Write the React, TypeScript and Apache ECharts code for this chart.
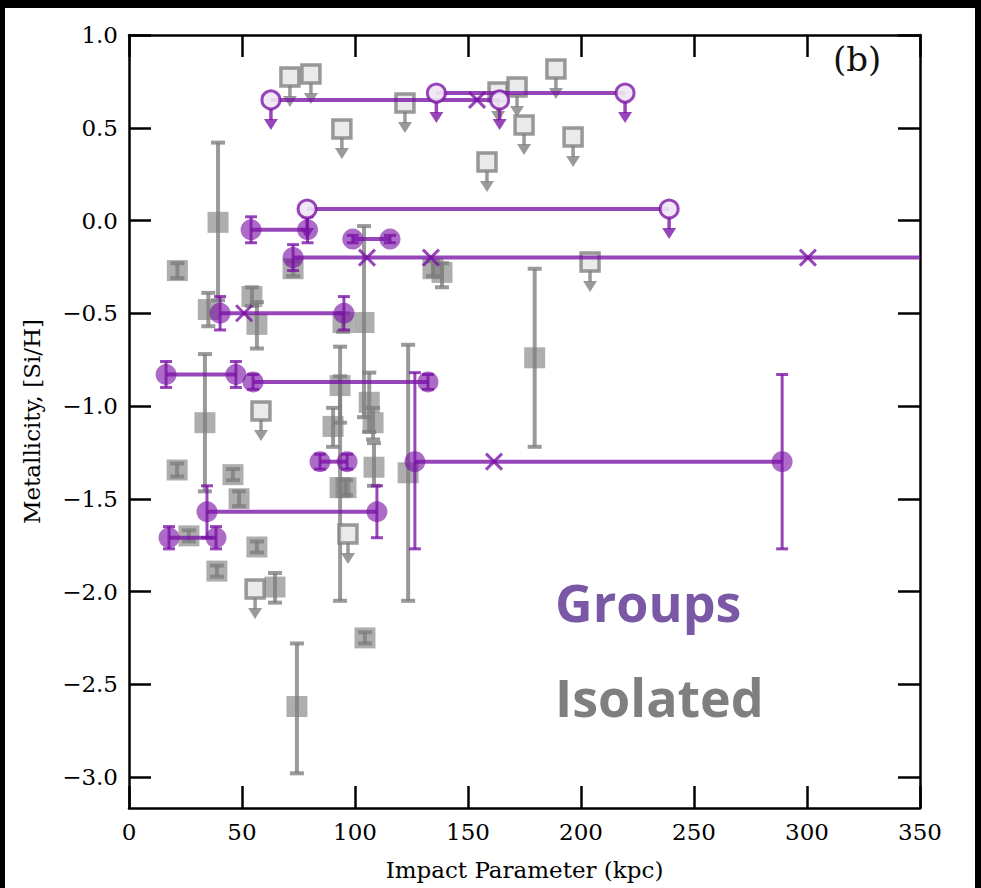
import React, { useEffect, useRef } from "react";
import * as echarts from "echarts";

// ---------- data ----------
const xTickStep = 50;
const yTicks = [-3.0, -2.5, -2.0, -1.5, -1.0, -0.5, 0.0, 0.5, 1.0];

// group horizontal spans: [xStart, xEnd, metallicity]
const groupSpans = [
  [62.8, 164, 0.65],
  [136, 219.5, 0.687],
  [78.8, 239, 0.062],
  [54, 79, -0.05],
  [99, 115.5, -0.1],
  [72.6, 370, -0.2],
  [40.3, 95.1, -0.5],
  [16.4, 47.3, -0.83],
  [54.9, 132.3, -0.87],
  [84.5, 96.5, -1.3],
  [126.5, 289, -1.3],
  [34.5, 109.7, -1.57],
  [17.7, 38.5, -1.71],
];

// group detections: [x, y, yLow, yHigh]
const groupDetections = [
  [54, -0.05, -0.12, 0.02],
  [79, -0.05, -0.12, 0.02],
  [99, -0.1, -0.12, -0.08],
  [115.5, -0.1, -0.12, -0.08],
  [72.6, -0.2, -0.27, -0.13],
  [40.3, -0.5, -0.59, -0.41],
  [95.1, -0.5, -0.59, -0.41],
  [16.4, -0.83, -0.9, -0.76],
  [47.3, -0.83, -0.9, -0.76],
  [54.9, -0.87, -0.91, -0.83],
  [132.3, -0.87, -0.91, -0.83],
  [84.5, -1.3, -1.34, -1.26],
  [96.5, -1.3, -1.34, -1.26],
  [126.5, -1.3, -1.77, -0.82],
  [289, -1.3, -1.77, -0.83],
  [34.5, -1.57, -1.71, -1.43],
  [109.7, -1.57, -1.71, -1.43],
  [17.7, -1.71, -1.77, -1.65],
  [38.5, -1.71, -1.77, -1.65],
];

// group upper limits: [x, y]
const groupUpperLimits = [
  [62.8, 0.65],
  [164, 0.65],
  [136, 0.687],
  [219.5, 0.687],
  [78.8, 0.062],
  [239, 0.062],
];

// group galaxies without measurement: [x, y]
const groupNonDetections = [
  [154, 0.65],
  [50.9, -0.5],
  [105.3, -0.2],
  [133.6, -0.2],
  [300.4, -0.2],
  [161.5, -1.3],
];

// isolated detections: [x, y, yLow, yHigh]
const isolatedDetections = [
  [39.4, -0.01, -0.43, 0.42],
  [21.4, -0.27, -0.31, -0.23],
  [72.6, -0.26, -0.3, -0.22],
  [134.5, -0.26, -0.3, -0.22],
  [138.5, -0.28, -0.36, -0.23],
  [35.1, -0.48, -0.57, -0.39],
  [54.4, -0.41, -0.46, -0.36],
  [56.6, -0.56, -0.69, -0.44],
  [94.7, -0.55, -0.6, -0.5],
  [104, -0.55, -1.06, -0.03],
  [93.4, -0.89, -1.09, -0.68],
  [93.4, -1.44, -2.05, -0.84],
  [96, -1.44, -1.48, -1.4],
  [90.3, -1.11, -1.22, -1.01],
  [106.3, -0.98, -1.14, -0.82],
  [108, -1.09, -1.18, -1.01],
  [108.4, -1.33, -1.43, -1.2],
  [123.5, -1.36, -2.05, -0.67],
  [33.6, -1.09, -1.46, -0.72],
  [21.3, -1.345, -1.38, -1.31],
  [46, -1.37, -1.4, -1.34],
  [48.7, -1.5, -1.54, -1.46],
  [26.5, -1.7, -1.73, -1.67],
  [56.6, -1.76, -1.79, -1.73],
  [38.9, -1.89, -1.92, -1.86],
  [64.6, -1.976, -2.06, -1.9],
  [104.4, -2.25, -2.28, -2.22],
  [74.3, -2.62, -2.98, -2.28],
  [179.5, -0.74, -1.22, -0.26],
];

// isolated upper limits: [x, y]
const isolatedUpperLimits = [
  [71.2, 0.774],
  [80.5, 0.79],
  [122.1, 0.633],
  [94.2, 0.493],
  [158.4, 0.315],
  [163.3, 0.693],
  [171.7, 0.72],
  [188.9, 0.817],
  [174.8, 0.515],
  [196.5, 0.45],
  [204, -0.224],
  [58.4, -1.027],
  [96.9, -1.69],
  [55.8, -1.987],
];

// ---------- styles ----------
const PURPLE = "rgba(122, 18, 165, 0.78)";
const GRAY = "rgba(125, 125, 125, 0.78)";
const SERIF = "DejaVu Serif";

function errorBarRenderer(color: string, lw: number, capHalf: number) {
  return (params: any, api: any) => {
    const x = api.value(0);
    const lo = api.value(2);
    const hi = api.value(3);
    const a = api.coord([x, hi]);
    const b = api.coord([x, lo]);
    const st = { stroke: color, lineWidth: lw };
    return {
      type: "group",
      children: [
        { type: "line", shape: { x1: a[0], y1: a[1], x2: b[0], y2: b[1] }, style: st },
        { type: "line", shape: { x1: a[0] - capHalf, y1: a[1], x2: a[0] + capHalf, y2: a[1] }, style: st },
        { type: "line", shape: { x1: b[0] - capHalf, y1: b[1], x2: b[0] + capHalf, y2: b[1] }, style: st },
      ],
    };
  };
}

function upperLimitRenderer(kind: "square" | "circle") {
  return (params: any, api: any) => {
    const p = api.coord([api.value(0), api.value(1)]);
    const color = kind === "square" ? GRAY : PURPLE;
    const children: any[] = [
      { type: "line", shape: { x1: p[0], y1: p[1] + 9, x2: p[0], y2: p[1] + 20 }, style: { stroke: color, lineWidth: 3.5 } },
      {
        type: "polygon",
        shape: { points: [[p[0] - 7, p[1] + 19], [p[0] + 7, p[1] + 19], [p[0], p[1] + 30]] },
        style: { fill: color },
      },
    ];
    if (kind === "square") {
      children.push({
        type: "rect",
        shape: { x: p[0] - 9, y: p[1] - 9, width: 18, height: 18 },
        style: { fill: "rgba(232,232,232,0.9)", stroke: color, lineWidth: 3.5 },
      });
    } else {
      children.push({
        type: "circle",
        shape: { cx: p[0], cy: p[1], r: 9 },
        style: { fill: "rgba(240,230,245,0.9)", stroke: color, lineWidth: 3 },
      });
    }
    return { type: "group", children };
  };
}

function spanRenderer(params: any, api: any) {
  const a = api.coord([api.value(0), api.value(2)]);
  const b = api.coord([api.value(1), api.value(2)]);
  return {
    type: "line",
    shape: { x1: a[0], y1: a[1], x2: b[0], y2: b[1] },
    style: { stroke: PURPLE, lineWidth: 4 },
  };
}

function crossRenderer(params: any, api: any) {
  const p = api.coord([api.value(0), api.value(1)]);
  const s = 8;
  const st = { stroke: PURPLE, lineWidth: 3 };
  return {
    type: "group",
    children: [
      { type: "line", shape: { x1: p[0] - s, y1: p[1] - s, x2: p[0] + s, y2: p[1] + s }, style: st },
      { type: "line", shape: { x1: p[0] - s, y1: p[1] + s, x2: p[0] + s, y2: p[1] - s }, style: st },
    ],
  };
}

export default function App() {
  const ref = useRef<HTMLDivElement>(null);

  useEffect(() => {
    if (!ref.current) return;
    const chart = echarts.init(ref.current, null, { renderer: "svg" });

    const fmtY = (v: number) => {
      const s = v.toFixed(1);
      return v < 0 ? "\u2212" + s.slice(1) : s;
    };

    const tickStyle = { show: true, inside: true, length: 22, lineStyle: { color: "#000", width: 2.5 } };
    const lineStyle = { show: true, onZero: false, lineStyle: { color: "#000", width: 2.5 } };

    chart.setOption({
      animation: false,
      backgroundColor: "#ffffff",
      grid: { left: 129, right: 61, top: 35, bottom: 80, outerBoundsMode: "none" },
      xAxis: [
        {
          type: "value",
          min: 0,
          max: 350,
          interval: xTickStep,
          position: "bottom",
          splitLine: { show: false },
          axisLine: lineStyle,
          axisTick: tickStyle,
          axisLabel: { fontFamily: SERIF, fontSize: 23, color: "#000", margin: 12 },
          name: "Impact Parameter (kpc)",
          nameLocation: "middle",
          nameGap: 50,
          nameTextStyle: { fontFamily: SERIF, fontSize: 23, color: "#000" },
        },
        {
          type: "value",
          min: 0,
          max: 350,
          interval: xTickStep,
          position: "top",
          splitLine: { show: false },
          axisLine: lineStyle,
          axisTick: tickStyle,
          axisLabel: { show: false },
        },
      ],
      yAxis: [
        {
          type: "value",
          min: -3.167,
          max: 1.0,
          position: "left",
          splitLine: { show: false },
          axisLine: lineStyle,
          axisTick: { ...tickStyle, customValues: yTicks },
          axisLabel: {
            customValues: yTicks,
            formatter: (v: number) => fmtY(v),
            fontFamily: SERIF,
            fontSize: 23,
            color: "#000",
            margin: 11,
          },
          name: "Metallicity, [Si/H]",
          nameLocation: "middle",
          nameRotate: 90,
          nameGap: 86,
          nameTextStyle: { fontFamily: SERIF, fontSize: 23, color: "#000" },
        },
        {
          type: "value",
          min: -3.167,
          max: 1.0,
          position: "right",
          splitLine: { show: false },
          axisLine: lineStyle,
          axisTick: { ...tickStyle, customValues: yTicks },
          axisLabel: { show: false },
        },
      ],
      graphic: [
        { type: "rect", shape: { x: 0, y: 0, width: 981, height: 8 }, style: { fill: "#000" }, z: 100 },
        { type: "rect", shape: { x: 0, y: 0, width: 5, height: 888 }, style: { fill: "#000" }, z: 100 },
        { type: "rect", shape: { x: 975, y: 0, width: 6, height: 888 }, style: { fill: "#000" }, z: 100 },
        {
          type: "text",
          left: 833,
          top: 42,
          style: { text: "(b)", font: `34px "${SERIF}"`, fill: "#111" },
          z: 100,
        },
        {
          type: "text",
          left: 555,
          top: 575,
          style: { text: "Groups", font: `bold 52px "Open Sans"`, fill: "#7b58a6" },
          z: 100,
        },
        {
          type: "text",
          left: 555,
          top: 670,
          style: { text: "Isolated", font: `bold 52px "Open Sans"`, fill: "#7f7f7f" },
          z: 100,
        },
      ],
      series: [
        {
          type: "custom",
          name: "isoErr",
          data: isolatedDetections,
          encode: { x: 0, y: 1 },
          clip: true,
          renderItem: errorBarRenderer(GRAY, 4, 7),
          z: 2,
        },
        {
          type: "scatter",
          name: "isoDet",
          data: isolatedDetections.map((d) => [d[0], d[1]]),
          symbol: "rect",
          symbolSize: 21,
          itemStyle: { color: GRAY },
          clip: true,
          z: 2,
        },
        {
          type: "custom",
          name: "isoUL",
          data: isolatedUpperLimits,
          encode: { x: 0, y: 1 },
          clip: true,
          renderItem: upperLimitRenderer("square"),
          z: 3,
        },
        {
          type: "custom",
          name: "groupSpan",
          data: groupSpans,
          encode: { x: [0, 1], y: 2 },
          clip: true,
          renderItem: spanRenderer,
          z: 4,
        },
        {
          type: "custom",
          name: "groupErr",
          data: groupDetections,
          encode: { x: 0, y: 1 },
          clip: true,
          renderItem: errorBarRenderer(PURPLE, 3, 6),
          z: 5,
        },
        {
          type: "scatter",
          name: "groupDet",
          data: groupDetections.map((d) => [d[0], d[1]]),
          symbol: "circle",
          symbolSize: 21,
          itemStyle: { color: PURPLE },
          clip: true,
          z: 5,
        },
        {
          type: "custom",
          name: "groupUL",
          data: groupUpperLimits,
          encode: { x: 0, y: 1 },
          clip: true,
          renderItem: upperLimitRenderer("circle"),
          z: 6,
        },
        {
          type: "custom",
          name: "groupX",
          data: groupNonDetections,
          encode: { x: 0, y: 1 },
          clip: true,
          renderItem: crossRenderer,
          z: 6,
        },
      ],
    });

    return () => chart.dispose();
  }, []);

  return (
    <div
      ref={ref}
      style={{ position: "absolute", left: 0, top: 0, width: 981, height: 888, background: "#fff" }}
    />
  );
}
